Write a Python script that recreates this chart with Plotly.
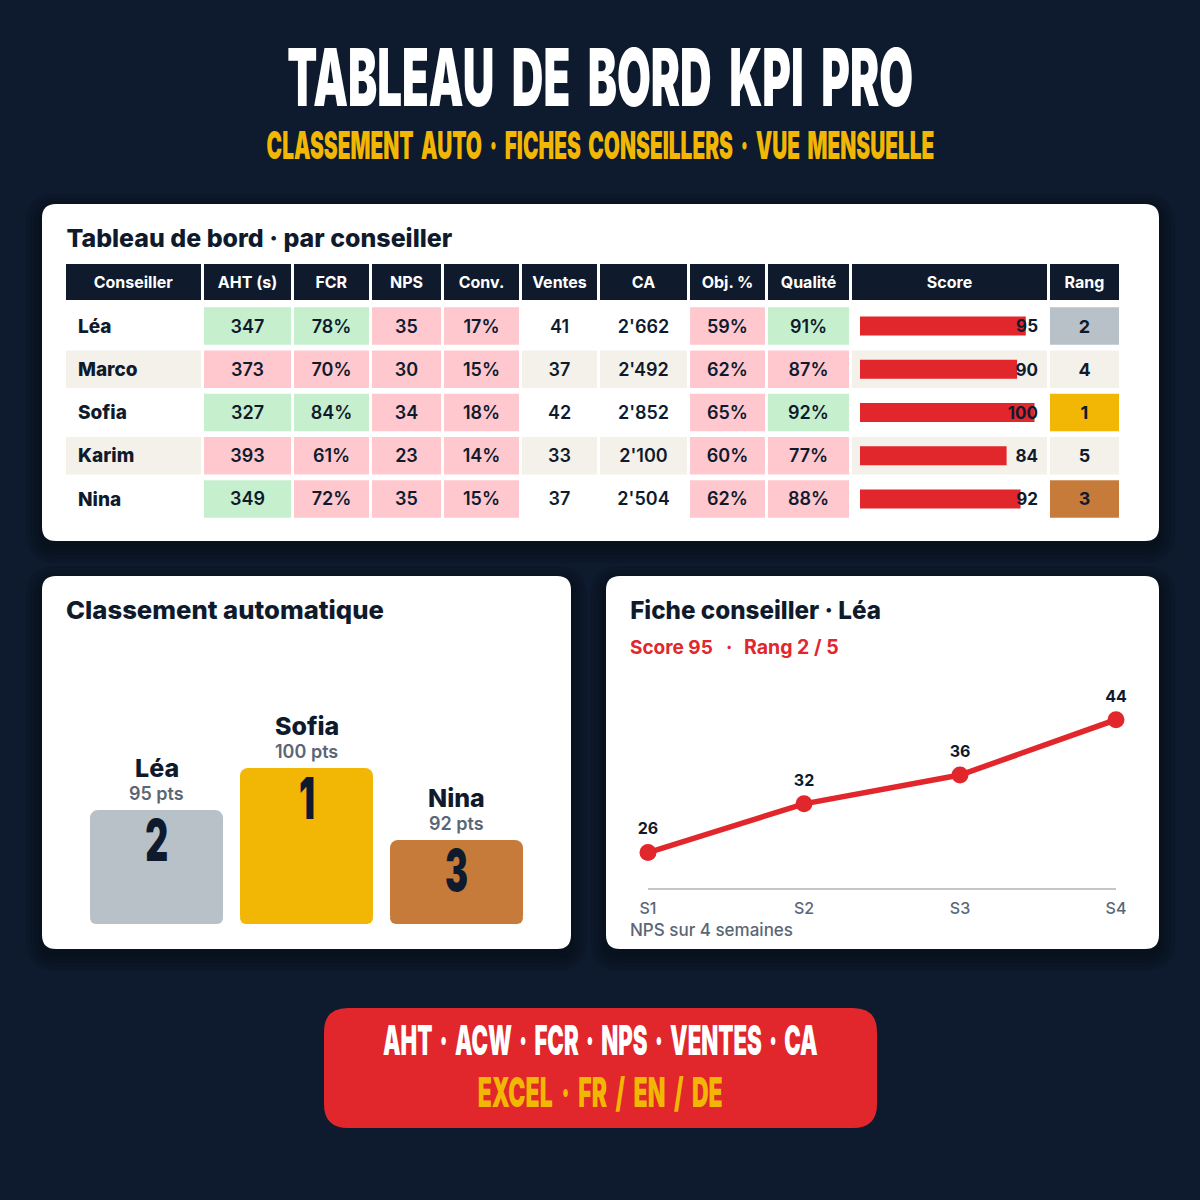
import plotly.graph_objects as go

# Data
conseillers = ["Léa", "Marco", "Sofia", "Karim", "Nina"]
aht = [347, 373, 327, 393, 349]
fcr = [78, 70, 84, 61, 72]
nps = [35, 30, 34, 23, 35]
conv = [17, 15, 18, 14, 15]
ventes = [41, 37, 42, 33, 37]
ca = ["2'662", "2'492", "2'852", "2'100", "2'504"]
obj = [59, 62, 65, 60, 62]
qualite = [91, 87, 92, 77, 88]
score = [95, 90, 100, 84, 92]
rang = [2, 4, 1, 5, 3]
headers = ["Conseiller", "AHT (s)", "FCR", "NPS", "Conv.", "Ventes", "CA", "Obj. %", "Qualité", "Score", "Rang"]

podium_names = ["Léa", "Sofia", "Nina"]
podium_pts = [95, 100, 92]
podium_rank = [2, 1, 3]
podium_heights = [114, 156, 84]

semaines = ["S1", "S2", "S3", "S4"]
nps_positions = [26.0, 32.6, 36.5, 44.0]
nps_labels = ["26", "32", "36", "44"]

# Styles
BG = "#0e1b2e"
NAVY = "#0f1b2d"
GREEN = "#c6efce"
PINK = "#ffc7ce"
BEIGE = "#f4f1ea"
WHITE = "#ffffff"
RED = "#e1262c"
GOLD = "#f2b705"
SILVER = "#b8c0c8"
BRONZE = "#c77b3b"
GREY = "#5b6675"
FONT = "Inter"
FOOT = 8

# Page positions, in pixels from the top left
col_left = [66, 204, 294, 372, 444, 522, 600, 690, 768, 852, 1050]
col_right = [201, 291, 369, 441, 519, 597, 687, 765, 849, 1047, 1119]
col_width = [r - l for l, r in zip(col_left, col_right)]
col_center = [(l + r) / 2 for l, r in zip(col_left, col_right)]
page = 1200


def dom_x(a, b):
	return [a / page, b / page]


def dom_y(top, bottom):
	return [1 - bottom / page, 1 - top / page]


def round_rect(x0, y0, x1, y1, r):
	x0, x1 = x0 / page, x1 / page
	y0, y1 = 1 - y0 / page, 1 - y1 / page
	rx, ry = r / page, r / page
	return (
		f"M {x0 + rx} {y0} L {x1 - rx} {y0} Q {x1} {y0} {x1} {y0 - ry} "
		f"L {x1} {y1 + ry} Q {x1} {y1} {x1 - rx} {y1} L {x0 + rx} {y1} "
		f"Q {x0} {y1} {x0} {y1 + ry} L {x0} {y0 - ry} Q {x0} {y0} {x0 + rx} {y0} Z"
	)


def note(x, y, text, size, color, anchor="left", weight=700):
	return dict(
		x=x / page, y=1 - y / page, xref="paper", yref="paper",
		text=text, showarrow=False, xanchor=anchor, yanchor="middle",
		font=dict(family=FONT, size=size, color=color, weight=weight),
	)


# Cards and their shadows
cards = [(42, 204, 1159, 541), (42, 576, 571, 949), (606, 576, 1159, 949)]
shapes = []
for x0, y0, x1, y1 in cards:
	for grow in [16, 12, 8, 4]:
		shapes.append(dict(
			type="path", xref="paper", yref="paper", layer="below", line_width=0,
			path=round_rect(x0 - grow, y0 - grow + 6, x1 + grow, y1 + grow + 6, 14 + grow),
			fillcolor="rgba(0,0,0,0.09)",
		))
	shapes.append(dict(
		type="path", xref="paper", yref="paper", layer="below", line_width=0,
		path=round_rect(x0, y0, x1, y1, 14), fillcolor=WHITE,
	))
shapes.append(dict(
	type="path", xref="paper", yref="paper", layer="below", line_width=0,
	path=round_rect(324, 1008, 877, 1128, 24), fillcolor=RED,
))

fig = go.Figure()

# Table header
fig.add_trace(go.Bar(
	x=col_center, y=[1] * len(headers), width=col_width, xaxis="x", yaxis="y5",
	marker=dict(color=NAVY, line_width=0), text=headers, textposition="inside",
	insidetextanchor="middle", textangle=0, constraintext="none",
	textfont=dict(family=FONT, size=16, color=WHITE, weight=700),
))

# Table cells
stripe = [BEIGE if i % 2 else WHITE for i in range(len(conseillers))]
columns = [
	(1, [str(v) for v in aht], [GREEN if v < 350 else PINK for v in aht], 600),
	(2, [f"{v}%" for v in fcr], [GREEN if v >= 75 else PINK for v in fcr], 600),
	(3, [str(v) for v in nps], [PINK] * 5, 600),
	(4, [f"{v}%" for v in conv], [PINK] * 5, 600),
	(5, [str(v) for v in ventes], stripe, 600),
	(6, ca, stripe, 600),
	(7, [f"{v}%" for v in obj], [PINK] * 5, 600),
	(8, [f"{v}%" for v in qualite], [GREEN if v >= 90 else PINK for v in qualite], 600),
	(10, [str(v) for v in rang], [{1: GOLD, 2: SILVER, 3: BRONZE}.get(v, BEIGE) for v in rang], 700),
]
for col in [0, 9]:
	fig.add_trace(go.Bar(
		y=conseillers, x=[col_width[col]] * 5, base=[col_left[col]] * 5, orientation="h",
		width=0.872, marker=dict(color=stripe, line_width=0), xaxis="x", yaxis="y",
	))
for col, labels, colors, weight in columns:
	fig.add_trace(go.Bar(
		y=conseillers, x=[col_width[col]] * 5, base=[col_left[col]] * 5, orientation="h",
		width=0.872, marker=dict(color=colors, line_width=0), xaxis="x", yaxis="y",
	))
	fig.add_trace(go.Scatter(
		x=[col_center[col]] * 5, y=conseillers, mode="text", text=labels,
		textposition="middle center", xaxis="x", yaxis="y6",
		textfont=dict(family=FONT, size=18, color=NAVY, weight=weight),
	))
fig.add_trace(go.Scatter(
	x=[78] * 5, y=conseillers, mode="text", text=conseillers,
	textposition="middle right", xaxis="x", yaxis="y6",
	textfont=dict(family=FONT, size=19, color=NAVY, weight=800),
))

# Score bars with their own 0-100 scale
fig.add_trace(go.Bar(
	y=conseillers, x=score, orientation="h", width=0.44, xaxis="x2", yaxis="y",
	marker=dict(color=RED, line_width=0),
))
fig.add_trace(go.Scatter(
	x=[102] * 5, y=conseillers, mode="text", text=[str(v) for v in score],
	textposition="middle left", xaxis="x2", yaxis="y6",
	textfont=dict(family=FONT, size=17, color=NAVY, weight=700),
))

# Podium, the lower part is a second bar so the bottom corners are rounded too
podium_colors = [SILVER, GOLD, BRONZE]
fig.add_trace(go.Bar(
	x=podium_names, y=[h - FOOT for h in podium_heights], width=0.887, xaxis="x3", yaxis="y3",
	marker=dict(color=podium_colors, line_width=0, cornerradius=8),
))
fig.add_trace(go.Bar(
	x=podium_names, y=[-FOOT - 4] * 3, base=[4] * 3, width=0.887, xaxis="x3", yaxis="y3",
	marker=dict(color=podium_colors, line_width=0, cornerradius=8),
))

# NPS line, labels sit on a slightly larger invisible marker
fig.add_trace(go.Scatter(
	x=semaines, y=nps_positions, mode="lines+markers", xaxis="x4", yaxis="y4", cliponaxis=False,
	line=dict(color=RED, width=5.5), marker=dict(color=RED, size=17),
))
fig.add_trace(go.Scatter(
	x=semaines, y=nps_positions, mode="markers+text", text=nps_labels,
	textposition="top center", xaxis="x4", yaxis="y4", cliponaxis=False,
	marker=dict(color="rgba(0,0,0,0)", size=21),
	textfont=dict(family=FONT, size=16, color=NAVY, weight=700),
))

# Text outside the marks
notes = [
	note(600, 76, "TABLEAU DE BORD KPI PRO", 80, WHITE, "center", 900),
	note(600, 145, "CLASSEMENT AUTO · FICHES CONSEILLERS · VUE MENSUELLE", 38, GOLD, "center", 900),
	note(259, 238, "Tableau de bord · par conseiller", 25, NAVY, "center", 800),
	note(225, 610, "Classement automatique", 25, NAVY, "center", 800),
	note(755.5, 610, "Fiche conseiller · Léa", 25, NAVY, "center", 800),
	note(628, 647, "Score 95", 19, RED),
	note(729, 647, "·", 19, RED, "center"),
	note(742, 647, "Rang 2 / 5", 19.5, RED),
	note(628, 930, "NPS sur 4 semaines", 17, GREY, weight=500),
	note(600, 1040, "AHT · ACW · FCR · NPS · VENTES · CA", 41, WHITE, "center", 900),
	note(600, 1092, "EXCEL · FR / EN / DE", 41, GOLD, "center", 900),
]
for name, pts, rank, h in zip(podium_names, podium_pts, podium_rank, podium_heights):
	top = h - FOOT
	notes.append(dict(
		x=name, y=top, xref="x3", yref="y3", text=name, showarrow=False, yshift=42,
		yanchor="middle", font=dict(family=FONT, size=25, color=NAVY, weight=800),
	))
	notes.append(dict(
		x=name, y=top, xref="x3", yref="y3", text=f"{pts} pts", showarrow=False, yshift=17,
		yanchor="middle", font=dict(family=FONT, size=18, color=GREY, weight=600),
	))
	notes.append(dict(
		x=name, y=top, xref="x3", yref="y3", text=str(rank), showarrow=False, yshift=-30,
		yanchor="middle", font=dict(family=FONT, size=58, color=NAVY, weight=900),
	))

hidden = dict(visible=False, fixedrange=True)
fig.update_layout(
	width=1200,
	height=1200,
	margin=dict(l=0, r=0, t=0, b=0, autoexpand=False),
	paper_bgcolor=BG,
	plot_bgcolor="rgba(0,0,0,0)",
	showlegend=False,
	barmode="overlay",
	shapes=shapes,
	annotations=notes,
	xaxis=dict(hidden, domain=dom_x(66, 1119), range=[66, 1119], anchor="y"),
	yaxis=dict(hidden, domain=dom_y(304.4, 520.6), type="category", range=[4.5, -0.5], anchor="x"),
	yaxis6=dict(hidden, domain=dom_y(306.4, 522.6), type="category", range=[4.5, -0.5], anchor="x"),
	xaxis2=dict(hidden, domain=dom_x(860, 1038), range=[0, 102], anchor="y"),
	xaxis3=dict(hidden, domain=dom_x(81.5, 531.5), type="category", range=[-0.5, 2.5], anchor="y3"),
	yaxis3=dict(hidden, domain=dom_y(768, 924), range=[-FOOT, 156 - FOOT], anchor="x3"),
	xaxis4=dict(
		domain=dom_x(648, 1116), type="category", range=[0, 3], anchor="y4", fixedrange=True,
		showgrid=False, zeroline=False, showline=True, linecolor="#c4c6ca", linewidth=1.5,
		ticks="", tickfont=dict(family=FONT, size=16, color=GREY, weight=500), ticklabelstandoff=5,
	),
	yaxis4=dict(hidden, domain=dom_y(700, 888), range=[21.2, 46.67], anchor="x4"),
	yaxis5=dict(hidden, domain=dom_y(264, 300), range=[0, 1], anchor="x"),
)

# Page setup, and the headline text squeezed to the width it has in the picture
page_script = """
document.body.style.margin = '0';
document.documentElement.style.overflow = 'hidden';
var squeeze = {
	'TABLEAU DE BORD KPI PRO': [626, 16],
	'CLASSEMENT AUTO · FICHES CONSEILLERS · VUE MENSUELLE': [668, 6],
	'AHT · ACW · FCR · NPS · VENTES · CA': [435, 5],
	'EXCEL · FR / EN / DE': [245, 7],
	'Tableau de bord · par conseiller': [386, 0],
	'Classement automatique': [318, 0],
	'Fiche conseiller · Léa': [251, 0],
	'1': [16, 0], '2': [23, 0], '3': [23, 0]
};
function applySqueeze() {
	document.querySelectorAll('.annotation-text').forEach(function(t) {
		var s = squeeze[t.textContent];
		if (s) {
			t.style.wordSpacing = s[1] + 'px';
			t.style.transformBox = 'fill-box';
			t.style.transformOrigin = 'center';
			t.style.transform = 'scaleX(' + s[0] / t.getComputedTextLength() + ')';
		}
	});
}
applySqueeze();
document.getElementById('{plot_id}').on('plotly_afterplot', applySqueeze);
"""

fig.write_html("out.html", post_script=page_script, config=dict(displayModeBar=False))
